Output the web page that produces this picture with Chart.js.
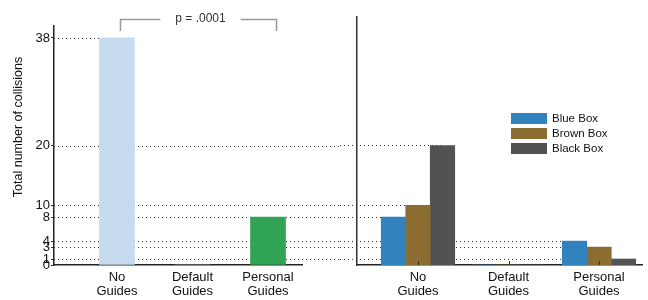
<!DOCTYPE html>
<html>
<head>
<meta charset="utf-8">
<script src="https://cdn.jsdelivr.net/npm/chart.js@4.4.1/dist/chart.umd.min.js"></script>
<style>
  html, body { margin: 0; padding: 0; background: #fff; }
  #wrap { position: relative; width: 648px; height: 300px; }
  canvas { position: absolute; top: 0; }
  #left { left: 0; }
  #right { left: 340px; }
</style>
</head>
<body>
<div id="wrap">
  <canvas id="left" width="340" height="300"></canvas>
  <canvas id="right" width="308" height="300"></canvas>
</div>
<script>
// ---- data ----
const categories = [["No", "Guides"], ["Default", "Guides"], ["Personal", "Guides"]];
const conditionTotals = [38, 0, 8];
const boxNames = ["Blue Box", "Brown Box", "Black Box"];
const blueBox = [8, 0, 4];
const brownBox = [10, 0, 3];
const blackBox = [20, 0, 1];
const yTicks = [0, 1, 3, 4, 8, 10, 20, 38];
const pValueLabel = "p = .0001";
const yTitle = "Total number of collisions";

// ---- styles ----
const FONT = "'Liberation Sans', Arial, Helvetica, sans-serif";
const totalColors = ["#c6dbef", "#c6dbef", "#31a354"];
const boxColors = ["#3182bd", "#8c6d31", "#525252"];
const boxSeries = [blueBox, brownBox, blackBox];
const rightValues = boxSeries.flat();

Chart.defaults.font.family = FONT;
Chart.defaults.color = "#222";

function dotted(ctx, x1, x2, y) {
  ctx.save();
  ctx.strokeStyle = "#333";
  ctx.lineWidth = 1;
  ctx.setLineDash([1, 3]);
  ctx.beginPath();
  ctx.moveTo(x1, Math.round(y) + 0.5);
  ctx.lineTo(x2, Math.round(y) + 0.5);
  ctx.stroke();
  ctx.restore();
}

const xTickSetter = (scale) => { scale.ticks = categories.map((c, i) => ({ value: i })); };
const yTickSetter = (scale) => { scale.ticks = yTicks.map(v => ({ value: v })); };

// ---- left chart ----
const leftPlugin = {
  id: "leftDeco",
  beforeDatasetsDraw(chart) {
    const ctx = chart.ctx, y = chart.scales.y, area = chart.chartArea;
    const meta = chart.getDatasetMeta(0);
    yTicks.forEach(v => {
      if (v === 0) return;
      let endX = null;
      if (rightValues.includes(v)) endX = chart.width;
      else {
        conditionTotals.forEach((t, i) => { if (t === v) endX = meta.data[i].x; });
      }
      if (endX !== null) dotted(ctx, area.left, endX, y.getPixelForValue(v));
    });
  },
  afterDraw(chart) {
    const ctx = chart.ctx, x = chart.scales.x;
    // significance bracket
    const x1 = x.getPixelForValue(0) + 3.5, x2 = x.getPixelForValue(2) + 8.5;
    const yTop = 19.5, yBot = 31;
    ctx.save();
    ctx.font = "12px " + FONT;
    const mid = (x1 + x2) / 2 + 2;
    const tw = ctx.measureText(pValueLabel).width;
    const gap = tw / 2 + 15;
    ctx.strokeStyle = "#999";
    ctx.lineWidth = 1.5;
    ctx.beginPath();
    ctx.moveTo(x1, yBot); ctx.lineTo(x1, yTop); ctx.lineTo(mid - gap, yTop);
    ctx.moveTo(mid + gap, yTop); ctx.lineTo(x2, yTop); ctx.lineTo(x2, yBot);
    ctx.stroke();
    ctx.fillStyle = "#333";
    ctx.textAlign = "center";
    ctx.textBaseline = "middle";
    ctx.fillText(pValueLabel, mid, 19);
    // y axis title
    ctx.font = "12.5px " + FONT;
    ctx.translate(19, 127);
    ctx.rotate(-Math.PI / 2);
    ctx.fillStyle = "#111";
    ctx.fillText(yTitle, 0, 0);
    ctx.restore();
  }
};

new Chart(document.getElementById("left"), {
  type: "bar",
  data: {
    datasets: [{
      data: conditionTotals.map((v, i) => ({ x: i, y: v })),
      backgroundColor: totalColors,
      borderWidth: 0,
      barThickness: 35
    }]
  },
  options: {
    responsive: false,
    animation: false,
    layout: { padding: { top: 26, right: 38, left: 0, bottom: 0 } },
    plugins: { legend: { display: false }, tooltip: { enabled: false } },
    scales: {
      x: {
        type: "linear", min: -0.834, max: 2.45, offset: false,
        afterBuildTicks: xTickSetter,
        afterFit: (s) => { s.height = 35; },
        grid: { display: false, drawTicks: false, offset: false },
        border: { display: true, color: "#222", width: 1.5 },
        ticks: {
          padding: 5, autoSkip: false, maxRotation: 0,
          font: { size: 13, lineHeight: 1.1 }, color: "#111",
          callback: (v) => categories[v]
        }
      },
      y: {
        type: "linear", min: 0, max: 40,
        afterBuildTicks: yTickSetter,
        afterFit: (s) => { s.width = 54; },
        grid: { display: true, drawOnChartArea: false, drawTicks: true, tickLength: 3, color: "#333" },
        border: { display: true, color: "#222", width: 1.5 },
        ticks: { autoSkip: false, padding: 1, font: { size: 13, lineHeight: 1 }, color: "#111" }
      }
    }
  },
  plugins: [leftPlugin]
});

// ---- right chart ----
const rightPlugin = {
  id: "rightDeco",
  beforeDatasetsDraw(chart) {
    const ctx = chart.ctx, y = chart.scales.y;
    yTicks.forEach(v => {
      if (v === 0) return;
      let endX = null;
      boxSeries.forEach((s, d) => {
        const meta = chart.getDatasetMeta(d);
        s.forEach((val, i) => {
          if (val === v) { const bx = meta.data[i].x; if (endX === null || bx > endX) endX = bx; }
        });
      });
      if (endX !== null) dotted(ctx, 0, endX, y.getPixelForValue(v));
    });
  },
  afterDraw(chart) {
    const ctx = chart.ctx, x = chart.scales.x, area = chart.chartArea;
    ctx.save();
    // inward tick marks on x axis
    ctx.strokeStyle = "#333";
    ctx.lineWidth = 1;
    categories.forEach((c, i) => {
      const px = Math.round(x.getPixelForValue(i)) + 0.5;
      ctx.beginPath(); ctx.moveTo(px, area.bottom); ctx.lineTo(px, area.bottom - 4); ctx.stroke();
    });
    // legend
    ctx.font = "11.5px " + FONT;
    ctx.textBaseline = "middle";
    ctx.textAlign = "left";
    boxNames.forEach((name, i) => {
      const top = 113 + i * 15;
      ctx.fillStyle = boxColors[i];
      ctx.fillRect(171, top, 36, 11);
      ctx.fillStyle = "#111";
      ctx.fillText(name, 212, top + 6);
    });
    ctx.restore();
  }
};

new Chart(document.getElementById("right"), {
  type: "bar",
  data: {
    datasets: boxSeries.map((s, d) => ({
      label: boxNames[d],
      data: s.map((v, i) => ({ x: i, y: v })),
      backgroundColor: boxColors[d],
      borderWidth: 0,
      barThickness: 24.5
    }))
  },
  options: {
    responsive: false,
    animation: false,
    layout: { padding: { top: 17, right: 6, left: 0, bottom: 0 } },
    plugins: { legend: { display: false }, tooltip: { enabled: false } },
    scales: {
      x: {
        type: "linear", min: -0.674, max: 2.475, offset: false,
        afterBuildTicks: xTickSetter,
        afterFit: (s) => { s.height = 35; },
        grid: { display: false, drawTicks: false, offset: false },
        border: { display: true, color: "#222", width: 1.5 },
        ticks: {
          padding: 5, autoSkip: false, maxRotation: 0,
          font: { size: 13, lineHeight: 1.1 }, color: "#111",
          callback: (v) => categories[v]
        }
      },
      y: {
        type: "linear", min: 0, max: 41.5,
        afterFit: (s) => { s.width = 17; },
        grid: { display: false },
        border: { display: true, color: "#333", width: 1.5 },
        ticks: { display: false }
      }
    }
  },
  plugins: [rightPlugin]
});
</script>
</body>
</html>
